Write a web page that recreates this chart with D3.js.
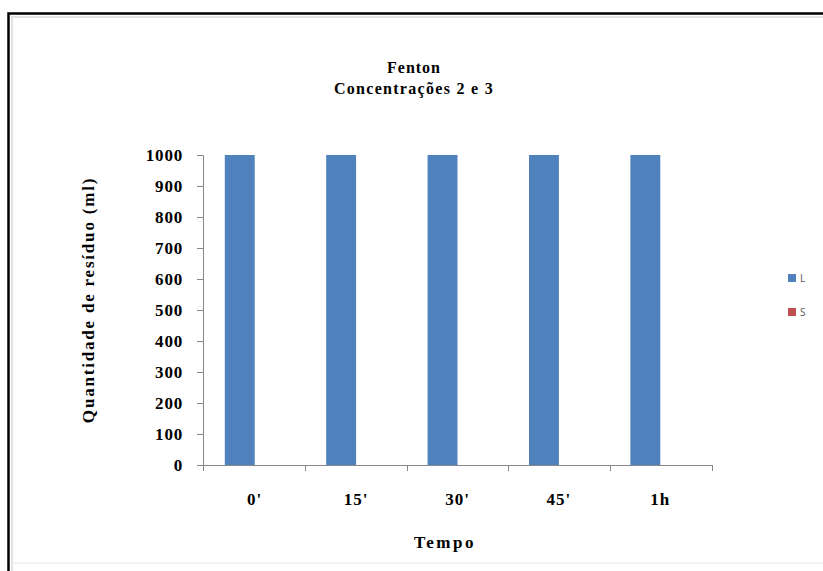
<!DOCTYPE html>
<meta charset="utf-8">
<head>
    <script src="https://d3js.org/d3.v7.min.js"></script>
</head>
<body style="margin:0; background:#fff;">
    <div id="svg_div"></div>
</body>
<script>

    // chart data
    var categories = ["0'", "15'", "30'", "45'", "1h"];
    var series_names = ["L", "S"];
    var values_L = [1000, 1000, 1000, 1000, 1000];
    var values_S = [0, 0, 0, 0, 0];
    var y_ticks = [0, 100, 200, 300, 400, 500, 600, 700, 800, 900, 1000];

    var bar_colors = { "L": "#4F81BD", "S": "#C0504D" };

    function draw_chart() {
        let width = 823, height = 571;
        let svg = d3.select("#svg_div").append("svg")
            .attr("width", width)
            .attr("height", height);

        // outer frame (black line left + top, grey inner shadow)
        svg.append("rect").attr("x", 0).attr("y", 0).attr("width", width).attr("height", height).attr("fill", "#fff");
        svg.append("path").attr("d", "M8.5," + height + " V13.5 H" + width)
            .attr("fill", "none").attr("stroke", "#000").attr("stroke-width", 2.5);
        svg.append("path").attr("d", "M12," + (height) + " V17 H" + width)
            .attr("fill", "none").attr("stroke", "#d9d9d9").attr("stroke-width", 1.5);
        svg.append("line").attr("x1", 12).attr("x2", width).attr("y1", 563).attr("y2", 563)
            .attr("stroke", "#efefef").attr("stroke-width", 1.5);

        let plot = { left: 203, right: 712, top: 155, bottom: 465 };

        let x0 = d3.scaleBand().domain(categories).range([plot.left, plot.right]).paddingInner(0.41).paddingOuter(0.215);
        let x1 = d3.scaleBand().domain(series_names).range([0, x0.bandwidth()]);
        let y = d3.scaleLinear().domain([0, 1000]).range([plot.bottom, plot.top]);

        let rows = categories.map((c, i) => ({ cat: c, L: values_L[i], S: values_S[i] }));

        // bars
        let g = svg.append("g");
        rows.forEach((r) => {
            series_names.forEach((s) => {
                g.append("rect")
                    .attr("x", x0(r.cat) + x1(s))
                    .attr("y", y(r[s]))
                    .attr("width", x1.bandwidth())
                    .attr("height", plot.bottom - y(r[s]))
                    .attr("fill", bar_colors[s]);
            });
        });

        let serif = "'Liberation Serif', 'Times New Roman', serif";
        let axis_color = "#868686";

        // y axis
        let y_axis = svg.append("g")
            .attr("transform", "translate(" + plot.left + ",0)")
            .call(d3.axisLeft(y).tickValues(y_ticks).tickFormat(d3.format("d")).tickSize(6).tickPadding(14));
        y_axis.select(".domain").attr("stroke", axis_color);
        y_axis.selectAll(".tick line").attr("stroke", axis_color);
        y_axis.selectAll(".tick text")
            .attr("fill", "#000")
            .style("font-family", serif)
            .style("font-weight", "bold")
            .style("font-size", "17px")
            .style("letter-spacing", "0.8px");

        // x axis with ticks on category boundaries
        svg.append("line")
            .attr("x1", plot.left).attr("x2", plot.right)
            .attr("y1", plot.bottom + 0.5).attr("y2", plot.bottom + 0.5)
            .attr("stroke", axis_color);
        let step = (plot.right - plot.left) / categories.length;
        d3.range(categories.length + 1).forEach((i) => {
            let xx = Math.round(plot.left + i * step) + 0.5;
            svg.append("line")
                .attr("x1", xx).attr("x2", xx)
                .attr("y1", plot.bottom).attr("y2", plot.bottom + 6)
                .attr("stroke", axis_color);
        });
        svg.append("g").selectAll("text")
            .data(categories)
            .enter().append("text")
            .attr("x", (d) => x0(d) + x0.bandwidth() / 2)
            .attr("y", 505)
            .attr("text-anchor", "middle")
            .style("font-family", serif)
            .style("font-weight", "bold")
            .style("font-size", "17px")
            .style("letter-spacing", "1px")
            .text((d) => d);

        // titles
        svg.append("text").attr("x", 414).attr("y", 73).attr("text-anchor", "middle")
            .style("font-family", serif).style("font-weight", "bold").style("font-size", "16px")
            .style("letter-spacing", "1px")
            .text("Fenton");
        svg.append("text").attr("x", 414).attr("y", 94).attr("text-anchor", "middle")
            .style("font-family", serif).style("font-weight", "bold").style("font-size", "16px")
            .style("letter-spacing", "1.3px")
            .text("Concentrações 2 e 3");

        svg.append("text").attr("x", 445).attr("y", 548).attr("text-anchor", "middle")
            .style("font-family", serif).style("font-weight", "bold").style("font-size", "17px")
            .style("letter-spacing", "2.5px")
            .text("Tempo");

        svg.append("text")
            .attr("transform", "translate(94,300) rotate(-90)")
            .attr("text-anchor", "middle")
            .style("font-family", serif).style("font-weight", "bold").style("font-size", "17px")
            .style("letter-spacing", "1.8px")
            .text("Quantidade de resíduo (ml)");

        // legend
        let legend = svg.append("g").attr("transform", "translate(788,274)");
        series_names.forEach((s, i) => {
            let lg = legend.append("g").attr("transform", "translate(0," + (i * 34) + ")");
            lg.append("rect").attr("width", 8).attr("height", 8).attr("fill", bar_colors[s]);
            lg.append("text").attr("x", 12).attr("y", 8)
                .style("font-family", "'Open Sans', 'DejaVu Sans', sans-serif")
                .style("font-size", "10px")
                .attr("fill", "#555")
                .text(s);
        });
    }

    draw_chart();

</script>
